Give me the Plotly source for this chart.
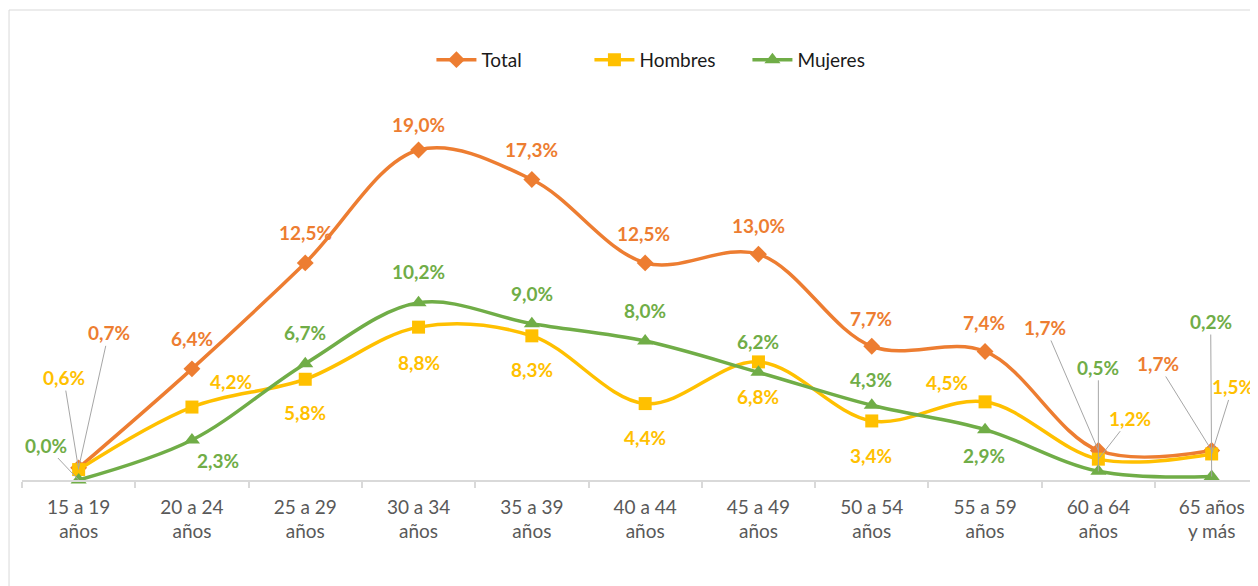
import plotly.graph_objects as go

categories = ["15 a 19<br>años", "20 a 24<br>años", "25 a 29<br>años", "30 a 34<br>años",
              "35 a 39<br>años", "40 a 44<br>años", "45 a 49<br>años", "50 a 54<br>años",
              "55 a 59<br>años", "60 a 64<br>años", "65 años<br>y más"]
total = [0.7, 6.4, 12.5, 19.0, 17.3, 12.5, 13.0, 7.7, 7.4, 1.7, 1.7]
hombres = [0.6, 4.2, 5.8, 8.8, 8.3, 4.4, 6.8, 3.4, 4.5, 1.2, 1.5]
mujeres = [0.0, 2.3, 6.7, 10.2, 9.0, 8.0, 6.2, 4.3, 2.9, 0.5, 0.2]

C_TOT = "#ED7D31"
C_HOM = "#FFC000"
C_MUJ = "#70AD47"
FONT = "Lato"

# label offsets in pixels (dx, dy screen-down), leader flag
off_tot = [(30, -135, True), (0, -30, False), (0, -30, False), (0, -25, False), (0, -30, False),
           (-2, -29, False), (0, -29, False), (-1, -28, False), (-1, -29, False),
           (-53, -123, True), (-54, -87, True)]
off_hom = [(-15, -92, True), (39, -26, False), (0, 33, False), (0, 35, False), (0, 34, False),
           (0, 34, False), (0, 35, False), (-1, 35, False), (-38, -19, False),
           (32, -41, True), (21, -67, True)]
off_muj = [(-33, -35, True), (26, 20, False), (0, -31, False), (0, -31, False), (0, -30, False),
           (0, -31, False), (0, -31, False), (-1, -26, False), (-1, 26, False),
           (0, -104, True), (-1, -155, True)]

fig = go.Figure()
series = [("Total", total, C_TOT, "diamond", 13, off_tot),
          ("Hombres", hombres, C_HOM, "square", 13, off_hom),
          ("Mujeres", mujeres, C_MUJ, "triangle-up", 14, off_muj)]

annotations = []
for name, vals, col, sym, msize, offs in series:
    fig.add_trace(go.Scatter(
        x=categories, y=vals, name=name, mode="lines+markers",
        line=dict(color=col, width=3.5, shape="spline", smoothing=1.0),
        marker=dict(symbol=sym, size=msize, color=col),
        cliponaxis=False,
    ))
    for c, v, (dx, dy, lead) in zip(categories, vals, offs):
        txt = f"{v:.1f}%".replace(".", ",")
        if lead:
            annotations.append(dict(
                x=c, y=v, xref="x", yref="y", text=f"<b>{txt}</b>",
                showarrow=True, arrowhead=0, arrowwidth=1, arrowcolor="#A6A6A6",
                ax=dx, ay=dy, standoff=0,
                font=dict(family=FONT, size=19, color=col)))
        else:
            annotations.append(dict(
                x=c, y=v, xref="x", yref="y", text=f"<b>{txt}</b>",
                showarrow=False, xshift=dx, yshift=-dy,
                font=dict(family=FONT, size=19, color=col)))

# the page adds an 8px body margin; figure is sized/margined to compensate
fig.update_layout(
    width=1250, height=578,
    margin=dict(l=14, r=0, t=2, b=106),
    paper_bgcolor="white", plot_bgcolor="white",
    showlegend=True,
    legend=dict(orientation="h", x=0.523, xanchor="center", y=0.894, yanchor="middle",
                font=dict(family=FONT, size=19, color="#1a1a1a"),
                bgcolor="rgba(0,0,0,0)", entrywidth=103, entrywidthmode="pixels",
                itemwidth=40, tracegroupgap=0),
    annotations=annotations,
    shapes=[
        dict(type="line", xref="paper", yref="paper", x0=-0.0105, x1=1.01, y0=1.0, y1=1.0,
             line=dict(color="#D9D9D9", width=1)),
        dict(type="line", xref="paper", yref="paper", x0=-0.0105, x1=-0.0105, y0=1.0, y1=-0.3,
             line=dict(color="#D9D9D9", width=1)),
    ],
)
fig.update_xaxes(
    type="category", range=[-0.5, 10.409],
    showline=True, linecolor="#D9D9D9", linewidth=1.5,
    ticks="outside", tickson="boundaries", ticklen=6, tickcolor="#D9D9D9", tickwidth=1.5,
    ticklabelstandoff=9,
    showgrid=False, zeroline=False,
    tickfont=dict(family=FONT, size=19, color="#595959"),
)
fig.update_yaxes(range=[0, 27.06], visible=False, showgrid=False, zeroline=False)

fig.write_html("out.html")
